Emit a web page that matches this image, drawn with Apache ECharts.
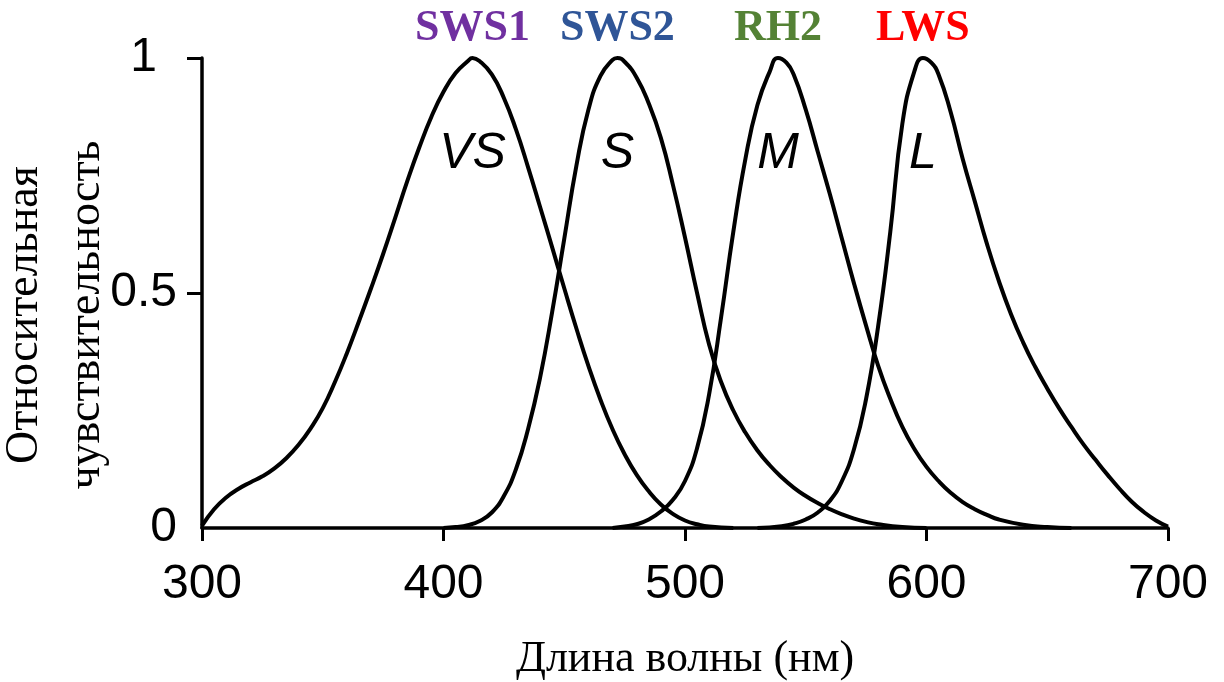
<!DOCTYPE html>
<html>
<head>
<meta charset="utf-8">
<script src="https://cdn.jsdelivr.net/npm/echarts@6/dist/echarts.min.js"></script>
<style>
  html, body { margin: 0; padding: 0; background: #ffffff; }
  #chart { width: 1224px; height: 682px; }
</style>
</head>
<body>
<div id="chart"></div>
<script>
// Spectral sensitivity of the four cone types (wavelength in nm, relative sensitivity)
const vsWave = [300, 305, 310, 315, 320, 325, 330, 335, 340, 345, 350, 355, 360, 365, 370, 375, 380, 385, 390, 395, 400, 405, 410, 412, 415, 420, 425, 430, 435, 440, 445, 450, 455, 460, 465, 470, 475, 480, 485, 490, 495, 500, 505, 510, 520];
const vsSens = [0.005, 0.04, 0.065, 0.083, 0.097, 0.11, 0.127, 0.149, 0.177, 0.212, 0.255, 0.31, 0.372, 0.44, 0.51, 0.583, 0.66, 0.738, 0.81, 0.875, 0.928, 0.968, 0.993, 1, 0.993, 0.965, 0.915, 0.848, 0.768, 0.683, 0.597, 0.51, 0.425, 0.345, 0.273, 0.21, 0.157, 0.113, 0.078, 0.05, 0.03, 0.016, 0.008, 0.003, 0];

const sWave = [400, 405, 410, 415, 420, 425, 430, 435, 440, 445, 450, 455, 460, 465, 470, 472, 475, 480, 485, 490, 495, 500, 505, 510, 515, 520, 525, 530, 535, 540, 545, 550, 555, 560, 565, 570, 575, 580, 590, 600];
const sSens = [0, 0.002, 0.006, 0.015, 0.033, 0.068, 0.125, 0.21, 0.32, 0.46, 0.615, 0.77, 0.89, 0.962, 0.996, 1, 0.992, 0.958, 0.903, 0.83, 0.73, 0.618, 0.5, 0.39, 0.31, 0.25, 0.203, 0.165, 0.134, 0.108, 0.086, 0.068, 0.053, 0.04, 0.029, 0.02, 0.013, 0.008, 0.002, 0];

const mWave = [470, 475, 480, 485, 490, 495, 500, 505, 510, 515, 520, 525, 530, 535, 538.5, 542, 545, 550, 555, 560, 565, 570, 575, 580, 585, 590, 595, 600, 605, 610, 615, 620, 625, 630, 640, 650, 660];
const mSens = [0, 0.003, 0.008, 0.018, 0.035, 0.06, 0.1, 0.17, 0.285, 0.45, 0.63, 0.785, 0.9, 0.97, 1, 0.99, 0.965, 0.89, 0.8, 0.71, 0.615, 0.52, 0.43, 0.345, 0.275, 0.215, 0.168, 0.13, 0.1, 0.075, 0.055, 0.04, 0.028, 0.018, 0.007, 0.002, 0];

const lWave = [530, 540, 545, 550, 555, 560, 565, 570, 575, 580, 585, 590, 595, 598.5, 602, 605, 610, 615, 620, 625, 630, 635, 640, 645, 650, 655, 660, 665, 670, 675, 680, 685, 690, 695, 700];
const lSens = [0, 0.004, 0.009, 0.018, 0.033, 0.058, 0.1, 0.168, 0.275, 0.43, 0.63, 0.86, 0.972, 1, 0.99, 0.965, 0.885, 0.785, 0.695, 0.605, 0.525, 0.455, 0.395, 0.343, 0.297, 0.254, 0.215, 0.178, 0.145, 0.113, 0.083, 0.056, 0.034, 0.016, 0.003];

// Peak wavelengths, receptor letters and opsin names
const peakWave = [412, 472, 538.5, 598.5];
const coneNames = ['VS', 'S', 'M', 'L'];
const opsinNames = ['SWS1', 'SWS2', 'RH2', 'LWS'];
const opsinColors = ['#7030A0', '#2F5597', '#548235', '#FF0000'];

const xTicks = [300, 400, 500, 600, 700];
const yTicks = [0, 0.5, 1];

function pairs(xs, ys) { return xs.map((x, i) => [x, ys[i]]); }

function curve(name, xs, ys) {
  return {
    name: name,
    type: 'line',
    data: pairs(xs, ys),
    smooth: 0.5,
    showSymbol: false,
    symbol: 'none',
    silent: true,
    clip: false,
    lineStyle: { color: '#000000', width: 4 }
  };
}

// Invisible anchor points carrying text labels
function labelSeries(y, texts, labelStyle, colors, offset) {
  return {
    type: 'scatter',
    symbolSize: 1,
    itemStyle: { color: 'rgba(0,0,0,0)', opacity: 1 },
    silent: true,
    z: 5,
    data: peakWave.map((w, i) => ({
      value: [w, y],
      label: Object.assign({
        show: true,
        position: 'inside',
        offset: offset,
        formatter: texts[i],
        color: colors[i],
        opacity: 1,
        textBorderWidth: 0
      }, labelStyle)
    }))
  };
}

const tickFont = { fontFamily: 'Liberation Sans', fontSize: 48, color: '#000000' };

const chart = echarts.init(document.getElementById('chart'), null, { renderer: 'canvas' });

const option = {
  backgroundColor: '#ffffff',
  animation: false,
  grid: { left: 202, right: 56, top: 58, bottom: 154, containLabel: false, outerBoundsMode: 'none' },
  xAxis: {
    type: 'value',
    min: xTicks[0],
    max: xTicks[xTicks.length - 1],
    interval: 100,
    name: 'Длина волны (нм)',
    nameLocation: 'middle',
    nameGap: 109,
    nameMoveOverlap: false,
    nameTextStyle: { fontFamily: 'Liberation Serif', fontSize: 44, color: '#000000' },
    axisLine: { onZero: false, lineStyle: { color: '#000000', width: 3.5 } },
    axisTick: { show: true, length: 13, lineStyle: { color: '#000000', width: 3 } },
    axisLabel: Object.assign({ margin: 33, customValues: xTicks }, tickFont),
    splitLine: { show: false }
  },
  yAxis: {
    type: 'value',
    min: 0,
    max: 1,
    interval: 0.5,
    name: 'Относительная\nчувствительность',
    nameLocation: 'middle',
    nameGap: 84,
    nameMoveOverlap: false,
    nameTextStyle: { fontFamily: 'Liberation Serif', fontSize: 46, color: '#000000', lineHeight: 62, padding: [0, 44, 0, 0] },
    axisLine: { lineStyle: { color: '#000000', width: 3.5 } },
    axisTick: { show: true, length: 15, customValues: [0.5, 1], lineStyle: { color: '#000000', width: 3 } },
    axisLabel: Object.assign({
      margin: 25,
      customValues: yTicks,
      formatter: v => (v === 1 ? '{one|1}' : String(v)),
      rich: { one: Object.assign({ padding: [0, 20, 0, 0] }, tickFont) }
    }, tickFont),
    splitLine: { show: false }
  },
  series: [
    curve('VS', vsWave, vsSens),
    curve('S', sWave, sSens),
    curve('M', mWave, mSens),
    curve('L', lWave, lSens),
    labelSeries(1, opsinNames,
      { fontFamily: 'Liberation Serif', fontWeight: 'bold', fontSize: 44 },
      opsinColors, [0, -29]),
    labelSeries(0.795, coneNames,
      { fontFamily: 'Liberation Sans', fontStyle: 'italic', fontSize: 50 },
      coneNames.map(() => '#000000'), [0, 0])
  ]
};

chart.setOption(option);
</script>
</body>
</html>
